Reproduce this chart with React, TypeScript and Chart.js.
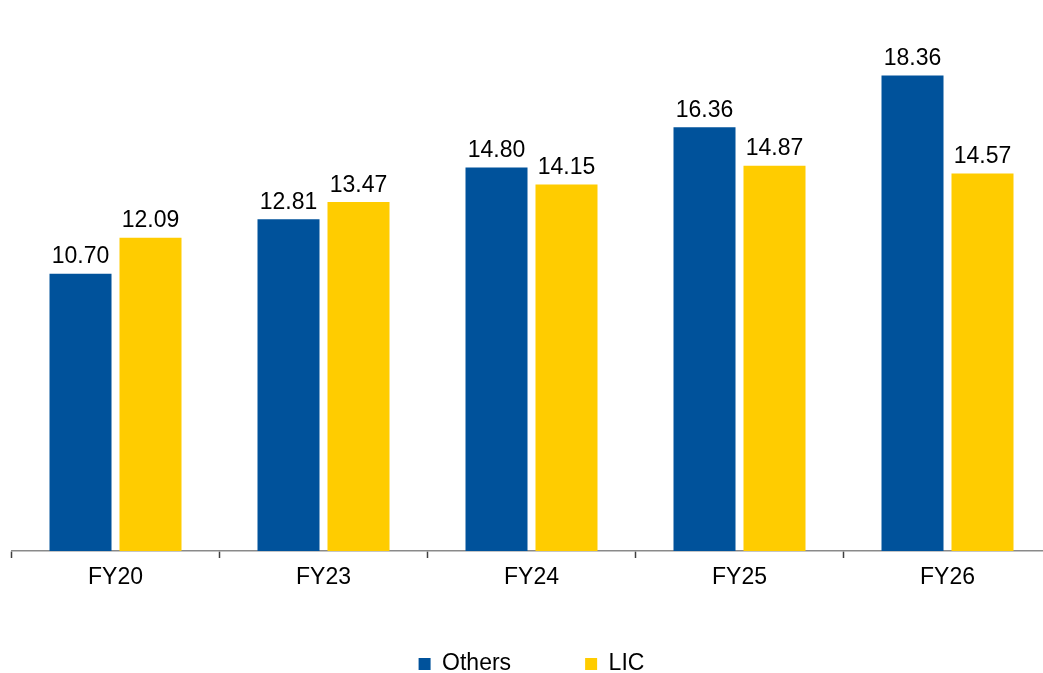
import React, { useEffect, useRef } from "react";
import { Chart, registerables } from "chart.js";

Chart.register(...registerables);

const categories = ["FY20", "FY23", "FY24", "FY25", "FY26"];
const othersValues = [10.7, 12.81, 14.8, 16.36, 18.36];
const licValues = [12.09, 13.47, 14.15, 14.87, 14.57];
const seriesNames = ["Others", "LIC"];
const seriesColors = ["#00529B", "#FFCC00"];

const FONT = '"Liberation Sans", Arial, sans-serif';

const valueLabels = {
  id: "valueLabels",
  afterDatasetsDraw(chart: any) {
    const ctx = chart.ctx;
    ctx.save();
    ctx.font = `23px ${FONT}`;
    ctx.fillStyle = "#000";
    ctx.textAlign = "center";
    ctx.textBaseline = "alphabetic";
    chart.data.datasets.forEach((ds: any, i: number) => {
      const meta = chart.getDatasetMeta(i);
      meta.data.forEach((bar: any, j: number) => {
        ctx.fillText(Number(ds.data[j]).toFixed(2), bar.x, bar.y - 10.5);
      });
    });
    ctx.restore();
  },
};

export default function App() {
  const ref = useRef<HTMLCanvasElement>(null);

  useEffect(() => {
    if (!ref.current) return;
    const chart = new Chart(ref.current, {
      type: "bar",
      data: {
        labels: categories,
        datasets: [
          {
            label: seriesNames[0],
            data: othersValues,
            backgroundColor: seriesColors[0],
            borderWidth: 0,
          },
          {
            label: seriesNames[1],
            data: licValues,
            backgroundColor: seriesColors[1],
            borderWidth: 0,
          },
        ],
      },
      options: {
        responsive: false,
        animation: false,
        devicePixelRatio: 1,
        datasets: {
          bar: { categoryPercentage: 0.673, barPercentage: 0.886 },
        },
        layout: { padding: { left: 11.5, right: 8.5, top: 7, bottom: 0.5 } },
        scales: {
          x: {
            grid: {
              display: true,
              drawOnChartArea: false,
              drawTicks: true,
              tickLength: 7,
              tickColor: "#404040",
              tickWidth: 1.5,
              offset: true,
            },
            border: { display: true, color: "#8a8a8a", width: 1.5 },
            ticks: {
              color: "#000",
              padding: 19.5,
              font: { family: FONT, size: 23, lineHeight: "1px" as any },
            },
            afterFit: (scale: any) => {
              scale.height = 40;
            },
          },
          y: {
            display: false,
            min: 0,
            max: 21,
          },
        },
        plugins: {
          legend: {
            display: true,
            position: "bottom",
            title: {
              display: true,
              text: "",
              font: { size: 10, lineHeight: "12px" as any },
              padding: { top: -12.25, bottom: -12.25 },
            },
            labels: {
              boxWidth: 12,
              boxHeight: 12,
              padding: 74,
              color: "#000",
              font: { family: FONT, size: 23 },
            },
          },
          tooltip: { enabled: false },
        },
      },
      plugins: [valueLabels],
    });
    return () => chart.destroy();
  }, []);

  return (
    <div
      style={{
        position: "fixed",
        left: 0,
        top: 0,
        width: 1043,
        height: 673,
        overflow: "hidden",
        background: "#fff",
      }}
    >
      <canvas
        ref={ref}
        width={1060}
        height={686}
        style={{ display: "block", width: 1060, height: 686 }}
      />
    </div>
  );
}
